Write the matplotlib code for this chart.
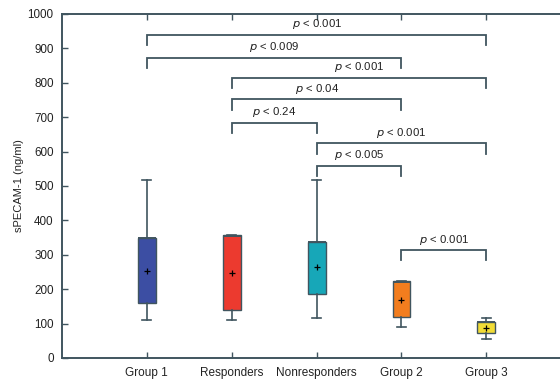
import matplotlib.pyplot as plt

plt.rcParams['font.family'] = ['Liberation Sans', 'DejaVu Sans']

groups = ['Group 1', 'Responders', 'Nonresponders', 'Group 2', 'Group 3']
whislo = [110, 110, 115, 91, 55]
q1 = [160, 139, 186, 118, 72]
med = [348, 356, 338, 220, 105]
q3 = [348, 358, 338, 224, 105]
whishi = [517, 358, 517, 224, 115]
means = [253, 246, 264, 169, 88]
colors = ['#3c4ea3', '#ec3a2f', '#17a7b8', '#f27d1e', '#f1dc36']

# significance brackets: (from group, to group, height, label)
pairs_from = [0, 0, 1, 1, 1, 2, 2, 3]
pairs_to = [4, 3, 4, 3, 2, 4, 3, 4]
bracket_y = [940, 873, 815, 752, 684, 624, 559, 314]
p_labels = ['0.001', '0.009', '0.001', '0.04', '0.24', '0.001', '0.005', '0.001']

line_col = '#40555f'

fig = plt.figure(figsize=(5.6, 3.8), dpi=100)
ax = fig.add_axes([62 / 560, 22 / 380, 1.0 - 62 / 560 + 0.02, 344 / 380])

positions = list(range(1, len(groups) + 1))
stats = []
for i, g in enumerate(groups):
    stats.append(dict(label=g, whislo=whislo[i], q1=q1[i], med=med[i],
                      q3=q3[i], whishi=whishi[i], mean=means[i], fliers=[]))

bp = ax.bxp(stats, positions=positions, widths=0.21, patch_artist=True,
            showmeans=True,
            boxprops=dict(edgecolor=line_col, linewidth=1.0),
            whiskerprops=dict(color=line_col, linewidth=1.2),
            capprops=dict(color=line_col, linewidth=1.2),
            medianprops=dict(color=line_col, linewidth=1.4),
            meanprops=dict(marker='+', markeredgecolor='black',
                           markersize=4.5, markeredgewidth=0.9))
for patch, c in zip(bp['boxes'], colors):
    patch.set_facecolor(c)

drop = 30
for a, b, y, lab in zip(pairs_from, pairs_to, bracket_y, p_labels):
    xa, xb = positions[a], positions[b]
    ax.plot([xa, xa, xb, xb], [y - drop, y, y, y - drop], color=line_col,
            linewidth=1.3, solid_joinstyle='miter')
    ax.text((xa + xb) / 2, y + 10, r'$p$ < ' + lab, ha='center', va='bottom',
            fontsize=8.2, color='#222222')

ax.set_xlim(0, 6.0)
ax.set_ylim(0, 1000)
ax.set_yticks(range(0, 1001, 100))
ax.set_xticks(positions)
ax.set_xticklabels(groups, fontsize=8.5, color='#222222')
ax.tick_params(axis='y', labelsize=8.4, labelcolor='#222222', pad=6)
ax.tick_params(axis='x', pad=6.5)
ax.tick_params(direction='in', length=4, color=line_col, width=1.0,
               top=True, right=False)
ax.set_ylabel('sPECAM-1 (ng/ml)', fontsize=8, color='#222222', labelpad=3)

for side in ['left', 'bottom', 'top']:
    ax.spines[side].set_color(line_col)
    ax.spines[side].set_linewidth(1.4)
ax.spines['right'].set_visible(False)

fig.savefig('out.png', dpi=100)
